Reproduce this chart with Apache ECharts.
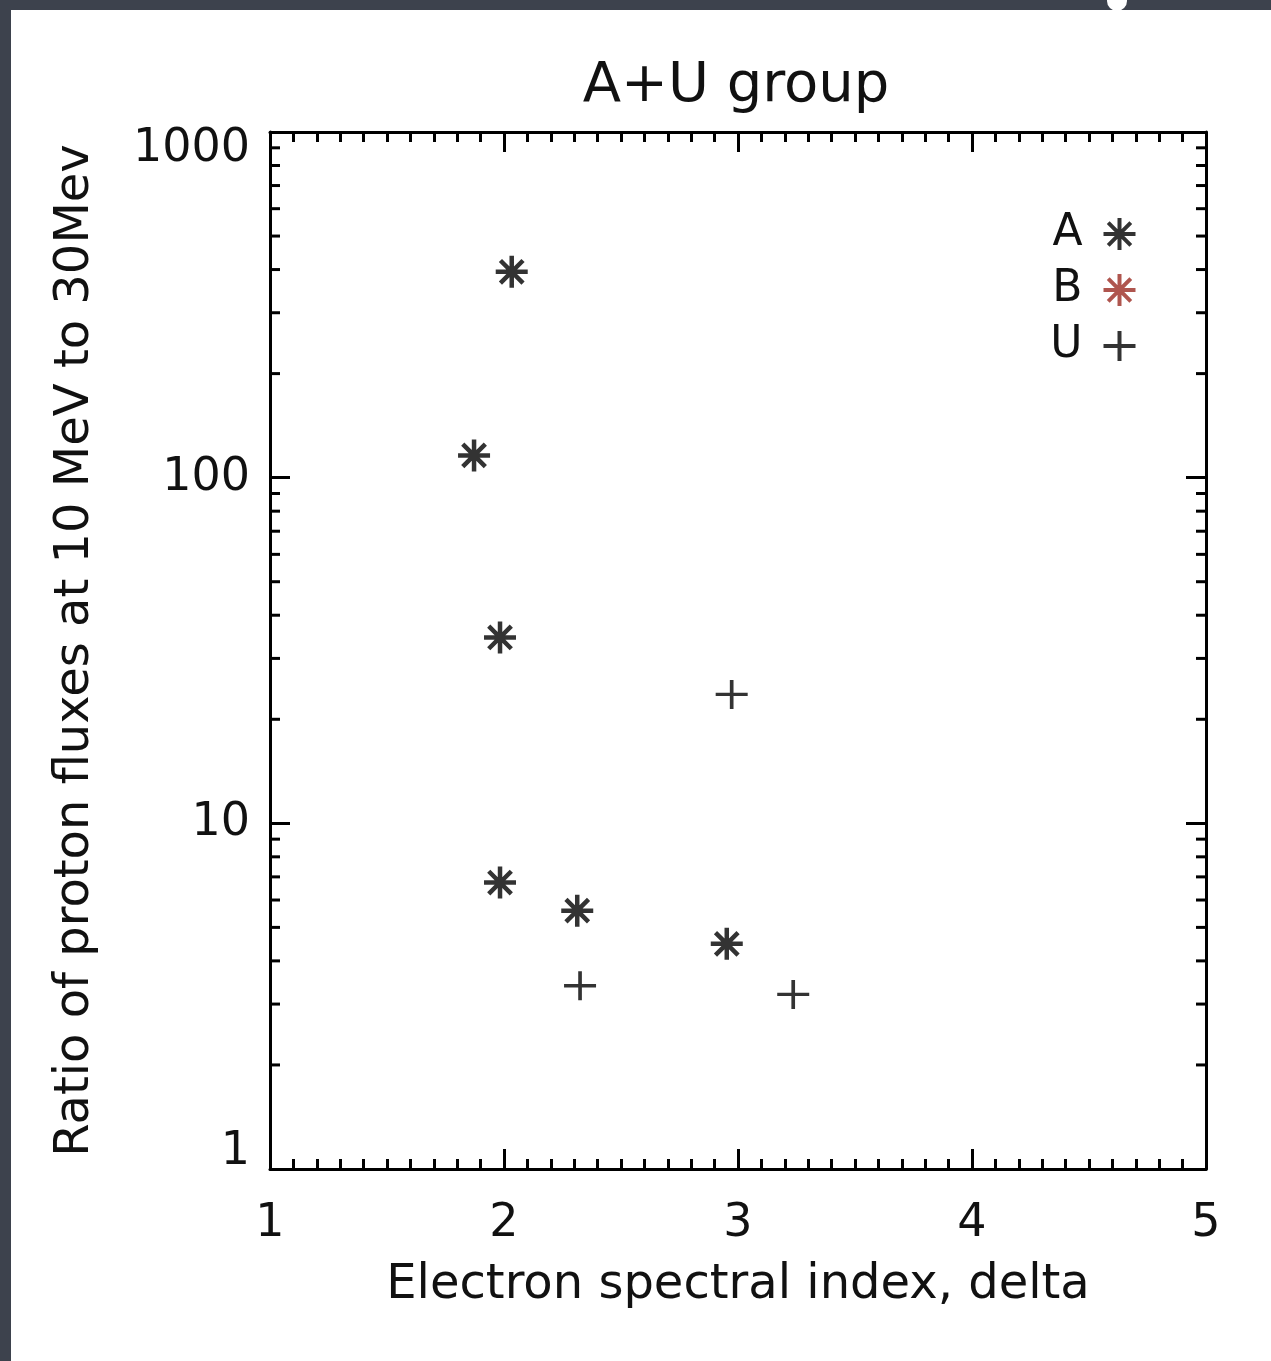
<!DOCTYPE html>
<html><head><meta charset="utf-8">
<script src="https://cdn.jsdelivr.net/npm/echarts@6/dist/echarts.min.js"></script>
<style>
html,body{margin:0;padding:0;background:#3d424d;overflow:hidden;}
#panel{position:absolute;left:11px;top:10px;width:1260px;height:1351px;background:#fff;}
#dot{position:absolute;left:1107px;top:-9px;width:20px;height:20px;border-radius:50%;background:#fff;}
#chart{position:absolute;left:0;top:0;width:1271px;height:1361px;}
</style></head><body>
<div id="panel"></div><div id="dot"></div><div id="chart"></div>
<script>
const chartTitle = 'A+U group';
const xAxisName = 'Electron spectral index, delta';
const yAxisName = 'Ratio of proton fluxes at 10 MeV to 30Mev';
const seriesNames = ['A', 'B', 'U'];
// [delta, ratio]
const seriesA = [[2.033, 394], [1.872, 116], [1.983, 34.5], [1.983, 6.74], [2.313, 5.59], [2.952, 4.48]];
const seriesB = [];
const seriesU = [[2.973, 23.6], [3.236, 3.20], [2.325, 3.39]];
const xMin = 1, xMax = 5, xInterval = 1;
const yMin = 1, yMax = 1000;
const yMinorTickValues = [2, 3, 4, 5, 6, 7, 8, 9, 20, 30, 40, 50, 60, 70, 80, 90, 200, 300, 400, 500, 600, 700, 800, 900];

const FONT = 'DejaVu Sans';
const INK = '#111';
const asterisk = 'path://M16,0L16,32M0,16L32,16M4.7,4.7L27.3,27.3M4.7,27.3L27.3,4.7';
const plus = 'path://M16,0L16,30M0,15L32,15';

const chart = echarts.init(document.getElementById('chart'), null, {renderer: 'canvas'});
const lineSt = {color: '#000', width: 3};
const tickTxt = {fontSize: 46, fontFamily: FONT, color: INK};
const nameTxt = {fontSize: 48, fontFamily: FONT, color: INK};

function xAx(pos, main) {
  return {
    type: 'value', min: xMin, max: xMax, interval: xInterval, position: pos,
    axisLine: {show: true, onZero: false, lineStyle: lineSt},
    axisTick: {show: true, inside: true, length: 20, lineStyle: lineSt},
    minorTick: {show: true, splitNumber: 10, length: 10, lineStyle: lineSt},
    splitLine: {show: false}, minorSplitLine: {show: false},
    axisLabel: main ? Object.assign({show: true, margin: 32}, tickTxt) : {show: false},
    name: main ? xAxisName : '', nameLocation: 'middle', nameGap: 93,
    nameTextStyle: nameTxt
  };
}
function yAx(pos, main) {
  return {
    type: 'log', logBase: 10, min: yMin, max: yMax, position: pos,
    axisLine: {show: true, onZero: false, lineStyle: lineSt},
    axisTick: {show: true, inside: true, length: 20, lineStyle: lineSt},
    minorTick: {show: false},
    splitLine: {show: false},
    axisLabel: main ? Object.assign({
      show: true, margin: 20, lineHeight: 34,
      formatter: v => String(Math.round(v)),
      verticalAlignMaxLabel: 'top', verticalAlignMinLabel: 'bottom'
    }, tickTxt) : {show: false},
    name: main ? yAxisName : '', nameLocation: 'middle', nameGap: 170,
    nameTextStyle: nameTxt
  };
}

const option = {
  backgroundColor: 'transparent',
  animation: false,
  grid: {left: 270, top: 132, right: 65, bottom: 192, containLabel: false},
  graphic: [{
    type: 'text', x: 736, y: 86,
    style: {text: chartTitle, font: '56px "DejaVu Sans"', fill: INK, textAlign: 'center', textVerticalAlign: 'middle'}
  }],
  legend: {
    data: seriesNames, orient: 'vertical', align: 'right', right: 128, top: 207,
    itemWidth: 32, itemHeight: 32, itemGap: 12, selectedMode: false,
    itemStyle: {borderWidth: 4},
    textStyle: {fontSize: 44, fontFamily: FONT, color: INK, lineHeight: 44, padding: [0, 16, 0, 0]}
  },
  xAxis: [xAx('bottom', true), xAx('top', false)],
  yAxis: [yAx('left', true), yAx('right', false)],
  series: [
    {name: 'A', type: 'scatter', data: seriesA, symbol: asterisk, symbolSize: 32,
     itemStyle: {color: 'none', borderColor: '#000', borderWidth: 4.5}},
    {name: 'B', type: 'scatter', data: seriesB, symbol: asterisk, symbolSize: 32,
     itemStyle: {color: 'none', borderColor: '#9b2a22', borderWidth: 4.5}},
    {name: 'U', type: 'scatter', data: seriesU, symbol: plus, symbolSize: [32, 29],
     itemStyle: {color: 'none', borderColor: '#000', borderWidth: 3.5}},
    {type: 'custom', silent: true, xAxisIndex: 0, yAxisIndex: 0, clip: false,
     data: yMinorTickValues.map(v => [xMin, v]),
     renderItem: function (params, api) {
       const cs = params.coordSys;
       const y = api.coord([api.value(0), api.value(1)])[1];
       const L = 10;
       const st = {stroke: '#000', lineWidth: 3};
       return {type: 'group', children: [
         {type: 'line', shape: {x1: cs.x, y1: y, x2: cs.x + L, y2: y}, style: st},
         {type: 'line', shape: {x1: cs.x + cs.width, y1: y, x2: cs.x + cs.width - L, y2: y}, style: st}
       ]};
     }}
  ]
};
chart.setOption(option);
</script>
</body></html>
